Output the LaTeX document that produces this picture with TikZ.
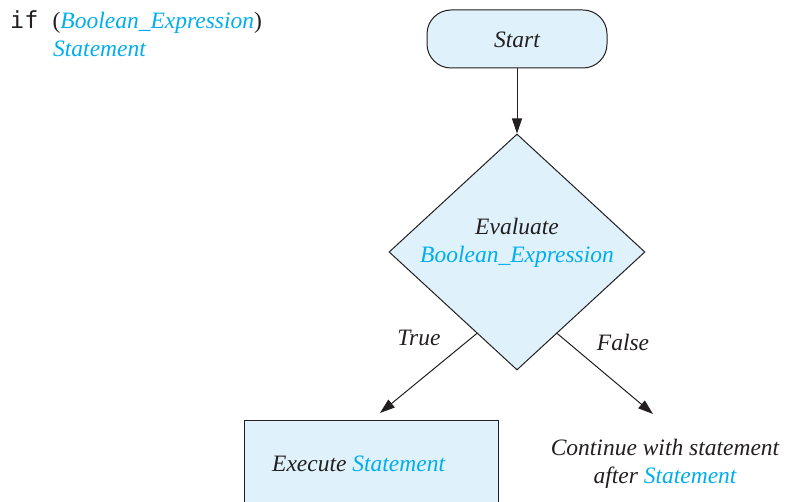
\documentclass[tikz,border=0pt]{standalone}
\usepackage{fontspec}
\setmainfont{Liberation Serif}
\setmonofont{DejaVu Sans Mono}
\usetikzlibrary{shapes.geometric,arrows.meta,calc}
\definecolor{boxfill}{HTML}{DFF1FA}
\definecolor{kw}{HTML}{00AEEF}
\definecolor{ink}{HTML}{231F20}
\tikzset{
  lbl/.style={font=\itshape\fontsize{23.5}{28}\selectfont, text=ink, inner sep=0pt},
  shapebox/.style={draw=ink, line width=1pt, fill=boxfill},
  conn/.style={draw=ink, line width=1pt, -{Triangle[length=15pt,width=10pt]}},
}
\begin{document}
\begin{tikzpicture}[x=1pt,y=-1pt]
\clip (0,0) rectangle (785,502);
\fill[white] (0,0) rectangle (785,502);
% code
\node[anchor=base west, inner sep=0pt, font=\fontsize{23.5}{28}\selectfont, text=ink] (code1) at (10,28.5)
  {\texttt{if\ }(\textcolor{kw}{\itshape Boolean\_Expression})};
\node[anchor=base west, inner sep=0pt, font=\itshape\fontsize{23.5}{28}\selectfont, text=kw] (code2) at (53,57)
  {Statement};
% start
\node[shapebox, rounded corners=24pt, minimum width=180pt, minimum height=58pt, inner sep=0pt] (start) at (517,39) {};
\node[lbl] (starttxt) at (517,40) {Start};
% diamond
\node[shapebox, diamond, minimum width=256pt, minimum height=236pt, inner sep=0pt] (d) at (517,252) {};
\node[lbl, align=center] (evaltxt) at (517,242.5) {Evaluate\\[0pt]\textcolor{kw}{Boolean\_Expression}};
\draw[conn] (start.south) -- (d.north);
% branches
\coordinate (tend) at (380,413);
\coordinate (fend) at (653,414);
\draw[conn] ($(d.west)!0.6875!(d.south)$) -- (tend);
\draw[conn] ($(d.east)!0.6875!(d.south)$) -- (fend);
\node[lbl] (truelbl) at (419,338) {True};
\node[lbl] (falselbl) at (623,342) {False};
% execute box
\node[shapebox, anchor=north west, minimum width=254pt, minimum height=110pt, inner sep=0pt] (exec) at (244,420) {};
\node[lbl, anchor=west] (exectxt) at (272,464) {Execute \textcolor{kw}{Statement}};
% continue
\node[lbl, align=center] (cont) at (665,464) {Continue with statement\\[0pt]after \textcolor{kw}{Statement}};
\end{tikzpicture}
\end{document}
